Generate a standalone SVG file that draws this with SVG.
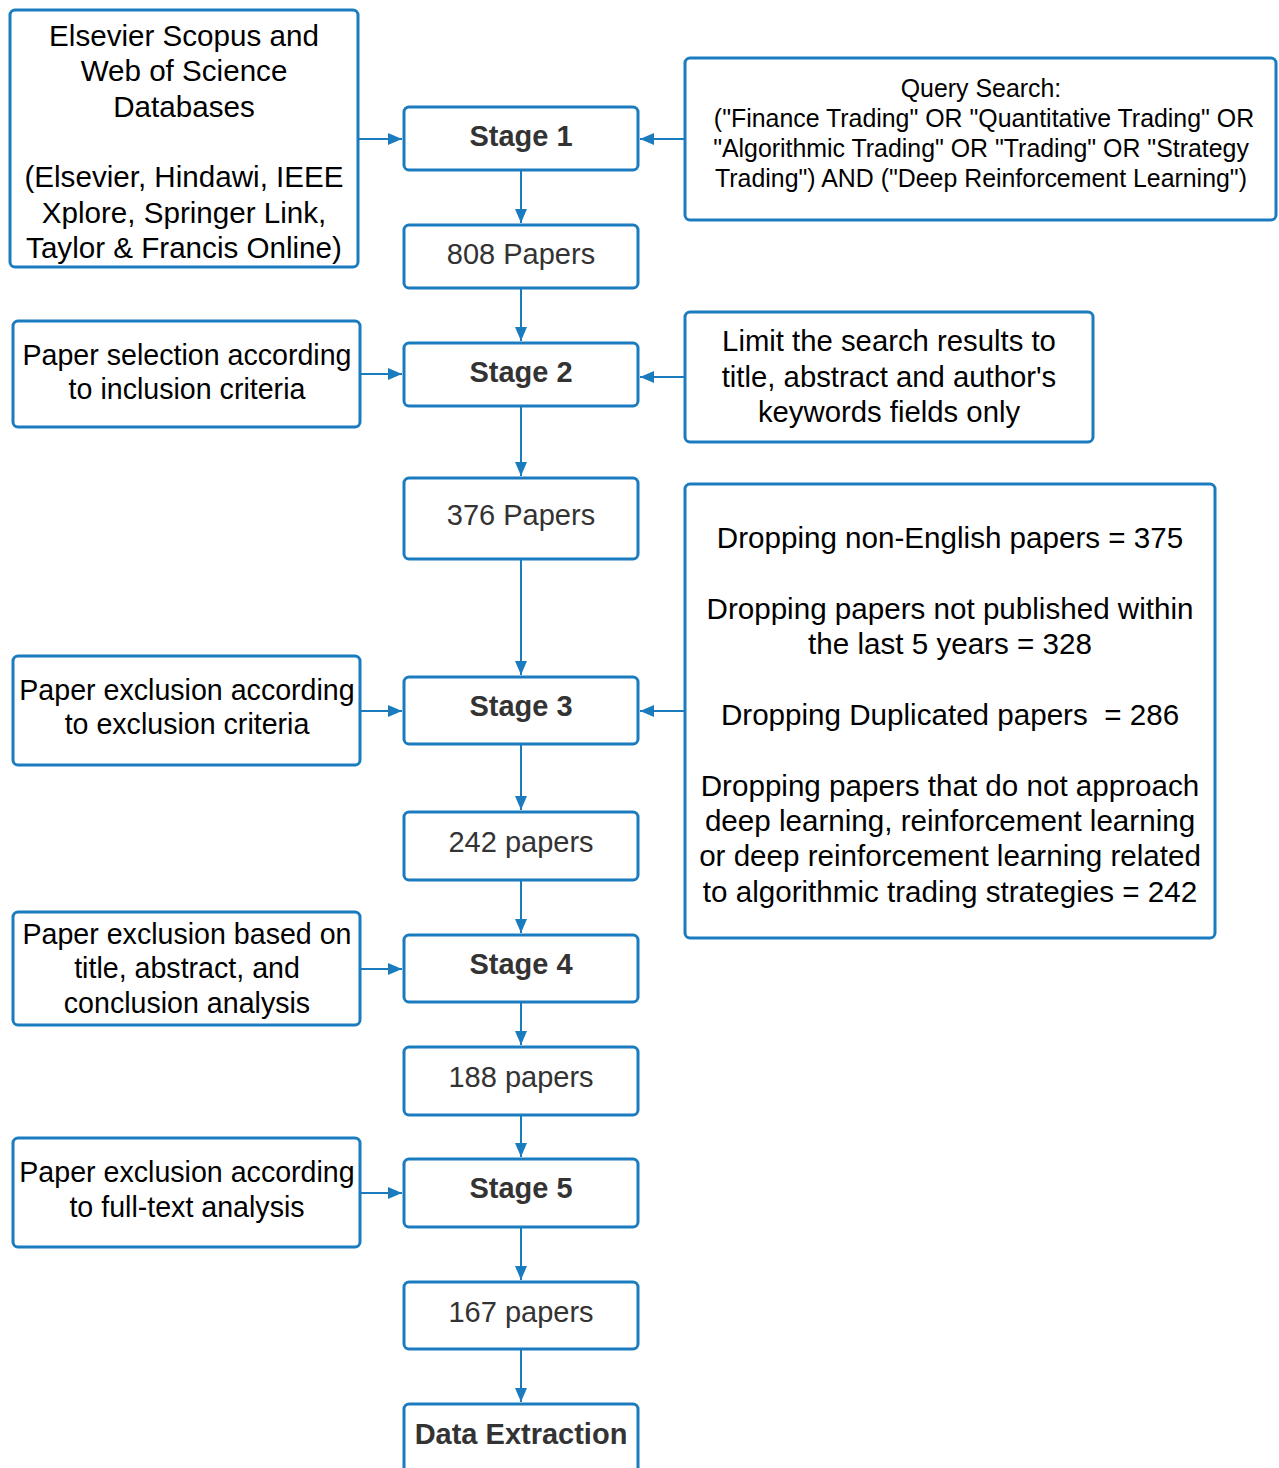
<svg xmlns="http://www.w3.org/2000/svg" width="1279" height="1468" viewBox="0 0 1279 1468">
  <defs>
    <marker id="arrow" viewBox="0 0 14 12" refX="14" refY="6" markerWidth="14" markerHeight="12" markerUnits="userSpaceOnUse" orient="auto">
      <path d="M0,0 L14,6 L0,12 Z" fill="#1b7bbf"/>
    </marker>
    <style>
      .box { fill: #ffffff; stroke: #1b7bbf; stroke-width: 3; }
      .edge { fill: none; stroke: #1b7bbf; stroke-width: 2; marker-end: url(#arrow); }
      .side { font-family: "Liberation Sans", Arial, sans-serif; font-size: 29.3px; fill: #000000; text-anchor: middle; }
      .left { font-size: 28.6px; }
      .big { font-size: 29.6px; }
      .query { font-family: "Liberation Sans", Arial, sans-serif; font-size: 24.9px; fill: #000000; text-anchor: middle; }
      .count { font-family: "Liberation Sans", Arial, sans-serif; font-size: 29px; fill: #333333; text-anchor: middle; }
      .stage { font-family: "Liberation Sans", Arial, sans-serif; font-size: 29px; font-weight: bold; fill: #333333; text-anchor: middle; }
    </style>
  </defs>
  <rect width="1279" height="1468" fill="#ffffff"/>

  <g id="connectors">
    <path class="edge" d="M358,139 L402,139"/>
    <path class="edge" d="M685,139 L640,139"/>
    <path class="edge" d="M521,170 L521,223"/>
    <path class="edge" d="M521,288 L521,341"/>
    <path class="edge" d="M360,374 L402,374"/>
    <path class="edge" d="M685,377 L640,377"/>
    <path class="edge" d="M521,406 L521,476"/>
    <path class="edge" d="M521,559 L521,675"/>
    <path class="edge" d="M360,711 L402,711"/>
    <path class="edge" d="M685,711 L640,711"/>
    <path class="edge" d="M521,744 L521,810"/>
    <path class="edge" d="M521,880 L521,933"/>
    <path class="edge" d="M360,969 L402,969"/>
    <path class="edge" d="M521,1002 L521,1045"/>
    <path class="edge" d="M521,1115 L521,1157"/>
    <path class="edge" d="M360,1193 L402,1193"/>
    <path class="edge" d="M521,1227 L521,1280"/>
    <path class="edge" d="M521,1349 L521,1402"/>
  </g>

  <g id="databases">
    <rect class="box" x="10" y="10" width="348" height="257" rx="5"/>
    <text class="side big" x="184" y="46">Elsevier Scopus and</text>
    <text class="side big" x="184" y="81">Web of Science</text>
    <text class="side big" x="184" y="117">Databases</text>
    <text class="side big" x="184" y="187">(Elsevier, Hindawi, IEEE</text>
    <text class="side big" x="184" y="223">Xplore, Springer Link,</text>
    <text class="side big" x="184" y="258">Taylor &amp; Francis Online)</text>
  </g>

  <g id="stage1">
    <rect class="box" x="404" y="107" width="234" height="63" rx="5"/>
    <text class="stage" x="521" y="146">Stage 1</text>
  </g>

  <g id="query">
    <rect class="box" x="685" y="58" width="591" height="162" rx="5"/>
    <text class="query" x="981" y="97">Query Search:</text>
    <text class="query" x="984" y="127">("Finance Trading" OR "Quantitative Trading" OR</text>
    <text class="query" x="981" y="157">"Algorithmic Trading" OR "Trading" OR "Strategy</text>
    <text class="query" x="981" y="187">Trading") AND ("Deep Reinforcement Learning")</text>
  </g>

  <g id="papers808">
    <rect class="box" x="404" y="225" width="234" height="63" rx="5"/>
    <text class="count" x="521" y="264">808 Papers</text>
  </g>

  <g id="inclusion">
    <rect class="box" x="13" y="321" width="347" height="106" rx="5"/>
    <text class="side left" x="187" y="365">Paper selection according</text>
    <text class="side left" x="187" y="399">to inclusion criteria</text>
  </g>

  <g id="stage2">
    <rect class="box" x="404" y="343" width="234" height="63" rx="5"/>
    <text class="stage" x="521" y="382">Stage 2</text>
  </g>

  <g id="limit">
    <rect class="box" x="685" y="312" width="408" height="130" rx="5"/>
    <text class="side" x="889" y="351">Limit the search results to</text>
    <text class="side" x="889" y="387">title, abstract and author's</text>
    <text class="side" x="889" y="422">keywords fields only</text>
  </g>

  <g id="papers376">
    <rect class="box" x="404" y="478" width="234" height="81" rx="5"/>
    <text class="count" x="521" y="525">376 Papers</text>
  </g>

  <g id="exclusion">
    <rect class="box" x="13" y="656" width="347" height="109" rx="5"/>
    <text class="side left" x="187" y="700">Paper exclusion according</text>
    <text class="side left" x="187" y="734">to exclusion criteria</text>
  </g>

  <g id="stage3">
    <rect class="box" x="404" y="677" width="234" height="67" rx="5"/>
    <text class="stage" x="521" y="716">Stage 3</text>
  </g>

  <g id="dropping">
    <rect class="box" x="685" y="484" width="530" height="454" rx="5"/>
    <text class="side big" x="950" y="548">Dropping non-English papers = 375</text>
    <text class="side big" x="950" y="619">Dropping papers not published within</text>
    <text class="side big" x="950" y="654">the last 5 years = 328</text>
    <text class="side big" x="950" y="725" xml:space="preserve">Dropping Duplicated papers  = 286</text>
    <text class="side big" x="950" y="796">Dropping papers that do not approach</text>
    <text class="side big" x="950" y="831">deep learning, reinforcement learning</text>
    <text class="side big" x="950" y="866">or deep reinforcement learning related</text>
    <text class="side big" x="950" y="902">to algorithmic trading strategies = 242</text>
  </g>

  <g id="papers242">
    <rect class="box" x="404" y="812" width="234" height="68" rx="5"/>
    <text class="count" x="521" y="852">242 papers</text>
  </g>

  <g id="titleAbstract">
    <rect class="box" x="13" y="912" width="347" height="113" rx="5"/>
    <text class="side left" x="187" y="944">Paper exclusion based on</text>
    <text class="side left" x="187" y="978">title, abstract, and</text>
    <text class="side left" x="187" y="1013">conclusion analysis</text>
  </g>

  <g id="stage4">
    <rect class="box" x="404" y="935" width="234" height="67" rx="5"/>
    <text class="stage" x="521" y="974">Stage 4</text>
  </g>

  <g id="papers188">
    <rect class="box" x="404" y="1047" width="234" height="68" rx="5"/>
    <text class="count" x="521" y="1087">188 papers</text>
  </g>

  <g id="fullText">
    <rect class="box" x="13" y="1138" width="347" height="109" rx="5"/>
    <text class="side left" x="187" y="1182">Paper exclusion according</text>
    <text class="side left" x="187" y="1217">to full-text analysis</text>
  </g>

  <g id="stage5">
    <rect class="box" x="404" y="1159" width="234" height="68" rx="5"/>
    <text class="stage" x="521" y="1198">Stage 5</text>
  </g>

  <g id="papers167">
    <rect class="box" x="404" y="1282" width="234" height="67" rx="5"/>
    <text class="count" x="521" y="1322">167 papers</text>
  </g>

  <g id="dataExtraction">
    <rect class="box" x="404" y="1404" width="234" height="80" rx="5"/>
    <text class="stage" x="521" y="1444">Data Extraction</text>
  </g>
</svg>
